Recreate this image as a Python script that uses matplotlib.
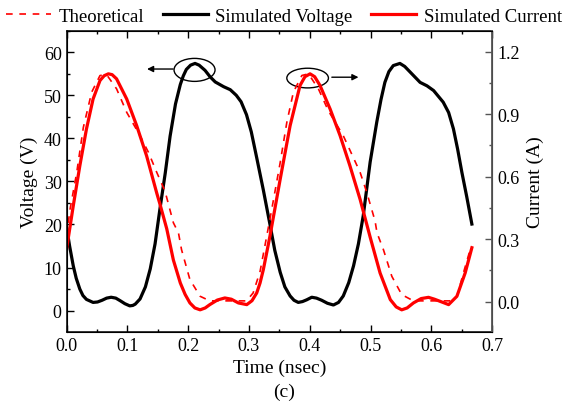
import matplotlib
matplotlib.use("Agg")
import matplotlib.pyplot as plt
from matplotlib.patches import Ellipse
from matplotlib.ticker import MultipleLocator, FormatStrFormatter

plt.rcParams['font.family'] = ['Liberation Serif', 'DejaVu Serif']

# Simulated voltage (V) vs time (ns)
t_volt = [0.0, 0.0051, 0.0111, 0.016, 0.0219, 0.027, 0.0328, 0.0437, 0.051, 0.0585,
          0.066, 0.0734, 0.081, 0.0882, 0.096, 0.104, 0.109, 0.113, 0.1209, 0.1297,
          0.1377, 0.1456, 0.1535, 0.1624, 0.1703, 0.1792, 0.1871, 0.192, 0.197, 0.204,
          0.2113, 0.218, 0.2277, 0.236, 0.2445, 0.2583, 0.2692, 0.2791, 0.287, 0.2959,
          0.3038, 0.3127, 0.3236, 0.3345, 0.3424, 0.3513, 0.359, 0.3676, 0.374, 0.381,
          0.388, 0.3948, 0.4032, 0.411, 0.4195, 0.429, 0.4388, 0.4472, 0.455, 0.464,
          0.4719, 0.4799, 0.4878, 0.4992, 0.5101, 0.517, 0.5234, 0.530, 0.5372, 0.5481,
          0.556, 0.5649, 0.5813, 0.5926, 0.6035, 0.6193, 0.6282, 0.6361, 0.643, 0.65,
          0.6579, 0.6664]
v_sim = [19.5, 15.0, 10.4, 7.5, 5.0, 3.5, 2.6, 1.9, 2.0, 2.4,
         2.9, 3.1, 2.9, 2.3, 1.6, 1.1, 1.2, 1.5, 2.7, 5.5,
         9.7, 15.5, 23.5, 32.0, 40.5, 48.0, 52.5, 54.5, 56.0, 57.0,
         57.4, 57.0, 55.8, 54.3, 53.1, 52.0, 51.3, 50.0, 48.5, 45.5,
         41.5, 35.5, 28.0, 20.0, 14.0, 8.9, 5.5, 3.4, 2.4, 1.9,
         2.1, 2.5, 3.1, 2.9, 2.4, 1.7, 1.3, 1.9, 3.4, 6.5,
         10.4, 15.5, 22.0, 34.5, 43.8, 49.0, 53.0, 55.5, 56.9, 57.4,
         56.7, 55.4, 53.0, 52.2, 51.1, 48.4, 46.0, 42.2, 37.5, 32.1,
         26.5, 20.1]

# Simulated current (A)
t_cur = [0.0, 0.0111, 0.0219, 0.0328, 0.0437, 0.0551, 0.062, 0.0688, 0.075, 0.0823,
         0.099, 0.1154, 0.1317, 0.1485, 0.1535, 0.1648, 0.1757, 0.1871, 0.195, 0.2029,
         0.211, 0.2197, 0.228, 0.2356, 0.248, 0.2603, 0.271, 0.2826, 0.2964, 0.305,
         0.3127, 0.3182, 0.3236, 0.3345, 0.3513, 0.3676, 0.3839, 0.392, 0.4004, 0.408,
         0.4168, 0.4334, 0.4498, 0.466, 0.4828, 0.4992, 0.5155, 0.5323, 0.542, 0.5511,
         0.56, 0.5703, 0.583, 0.5951, 0.605, 0.6144, 0.6282, 0.6418, 0.6554, 0.6664]
i_sim = [0.25, 0.46, 0.652, 0.829, 0.973, 1.062, 1.085, 1.094, 1.09, 1.07,
         0.973, 0.845, 0.70, 0.52, 0.47, 0.35, 0.20, 0.09, 0.035, -0.006,
         -0.03, -0.039, -0.03, -0.014, 0.008, 0.018, 0.012, -0.006, -0.014, 0.005,
         0.042, 0.09, 0.154, 0.315, 0.588, 0.845, 1.038, 1.08, 1.094, 1.08,
         1.038, 0.925, 0.797, 0.652, 0.49, 0.31, 0.138, 0.01, -0.025, -0.039,
         -0.03, -0.006, 0.015, 0.021, 0.012, 0.0015, -0.014, 0.026, 0.138, 0.259]

# Theoretical current (A)
t_theo = [0.0, 0.0058, 0.0168, 0.0277, 0.0414, 0.0551, 0.0662, 0.0823, 0.099, 0.1209,
          0.1347, 0.1485, 0.162, 0.1757, 0.1841, 0.1891, 0.2029, 0.2197, 0.2356, 0.2959,
          0.3068, 0.3182, 0.3266, 0.3374, 0.3513, 0.3622, 0.373, 0.3869, 0.3978, 0.4141,
          0.4304, 0.455, 0.469, 0.4828, 0.4937, 0.5073, 0.5105, 0.521, 0.5348, 0.5511,
          0.5703, 0.6302, 0.642, 0.6525, 0.6636, 0.6664]
i_theo = [0.315, 0.443, 0.62, 0.837, 1.006, 1.086, 1.089, 1.022, 0.909, 0.797,
          0.717, 0.62, 0.53, 0.379, 0.33, 0.25, 0.106, 0.026, 0.004, 0.004,
          0.042, 0.145, 0.275, 0.443, 0.668, 0.861, 1.006, 1.086, 1.094, 1.022,
          0.917, 0.797, 0.708, 0.62, 0.524, 0.387, 0.33, 0.25, 0.122, 0.034,
          0.004, 0.004, 0.026, 0.138, 0.25, 0.267]

fig = plt.figure(figsize=(5.68, 4.06), dpi=100)
ax1 = fig.add_axes([66.5/568, (406-332.7)/406, (492.3-66.5)/568, (332.7-31.7)/406])
ax2 = ax1.twinx()

lv, = ax1.plot(t_volt, v_sim, color='black', lw=2.3, label='Simulated Voltage',
               solid_joinstyle='round')
lt, = ax2.plot(t_theo, i_theo, color='red', lw=1.2, ls=(0, (4, 4)), label='Theoretical')
lc, = ax2.plot(t_cur, i_sim, color='red', lw=2.3, label='Simulated Current',
               solid_joinstyle='round')

ax1.set_xlim(0, 0.7)
ax1.set_ylim(-4.9, 65)
ax2.set_ylim(-0.144, 1.301)

ax1.xaxis.set_major_locator(MultipleLocator(0.1))
ax1.xaxis.set_minor_locator(MultipleLocator(0.05))
ax1.yaxis.set_major_locator(MultipleLocator(10))
ax1.yaxis.set_minor_locator(MultipleLocator(5))
ax2.yaxis.set_major_locator(MultipleLocator(0.3))
ax2.yaxis.set_minor_locator(MultipleLocator(0.15))
ax1.xaxis.set_major_formatter(FormatStrFormatter('%.1f'))
ax2.yaxis.set_major_formatter(FormatStrFormatter('%.1f'))

ax1.tick_params(which='both', direction='in', top=True, right=False, labelsize=13, width=1)
ax1.tick_params(which='major', length=5)
ax1.tick_params(which='minor', length=2.5)
ax2.tick_params(which='both', direction='in', labelsize=13, colors='#555555',
                labelcolor='black', width=1)
ax2.tick_params(which='major', length=5)
ax2.tick_params(which='minor', length=2.5)
ax2.spines['right'].set_color('#555555')
ax2.spines['right'].set_linewidth(1.3)
for s in ['left', 'bottom', 'top']:
    ax1.spines[s].set_linewidth(1.1)

ax1.set_xlabel('Time (nsec)', fontsize=14, labelpad=4)
ax1.set_ylabel('Voltage (V)', fontsize=14, labelpad=4)
ax2.set_ylabel('Current (A)', fontsize=14, labelpad=5)
fig.text(0.5, (406-392)/406, '(c)', ha='center', va='center', fontsize=14)

# Annotations
ax1.add_patch(Ellipse((0.2105, 55.9), 0.0674, 5.34, fill=False, ec='black', lw=1))
ax1.add_patch(Ellipse((0.3964, 54.0), 0.0684, 4.57, fill=False, ec='black', lw=1))
ax1.annotate('', xy=(0.1324, 56.1), xytext=(0.1752, 56.1),
             arrowprops=dict(arrowstyle='-|>', color='black', lw=1, mutation_scale=9,
                             shrinkA=0, shrinkB=0))
ax1.annotate('', xy=(0.48, 54.2), xytext=(0.4362, 54.2),
             arrowprops=dict(arrowstyle='-|>', color='black', lw=1, mutation_scale=9,
                             shrinkA=0, shrinkB=0))

fig.legend(handles=[lt, lv, lc], loc='center', bbox_to_anchor=(0.5, (406-17)/406),
           ncol=3, frameon=False, fontsize=13.5, handlelength=2.4, columnspacing=1.0,
           handletextpad=0.4, borderaxespad=0)

fig.savefig('out.png', dpi=100)
